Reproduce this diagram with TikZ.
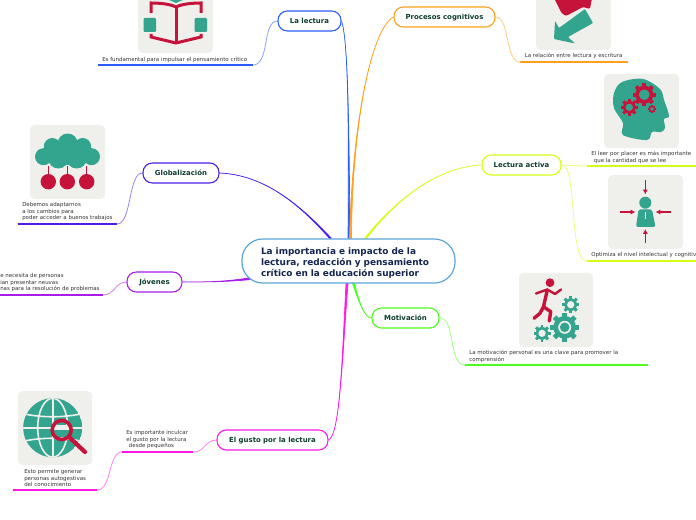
\documentclass[tikz,border=0pt]{standalone}
\usepackage{fontspec}
\setmainfont{DejaVu Sans}
\usetikzlibrary{backgrounds,arrows.meta}
\def\px{*0.75pt}
\definecolor{teal1}{HTML}{33A58F}
\definecolor{crim}{HTML}{C5133A}
\definecolor{panelc}{HTML}{EFEFEB}
\definecolor{cblue}{HTML}{2A5CFF}
\definecolor{corange}{HTML}{FF9F1C}
\definecolor{clime}{HTML}{D2FF14}
\definecolor{cgreen}{HTML}{4CFF1E}
\definecolor{cmag}{HTML}{FF19E8}
\definecolor{cpurp}{HTML}{A81EE8}
\definecolor{cindigo}{HTML}{4B1EE8}
\definecolor{ctrb}{HTML}{5AA5DC}
\definecolor{bt}{HTML}{0B3D2E}
\definecolor{navy}{HTML}{14264F}
\definecolor{leaft}{HTML}{333333}
\tikzset{
  branch/.style={draw=#1,fill=white,line width=1.1\px,rounded corners=7pt,inner sep=0pt,
    minimum height=20\px,text height=3.8pt,text depth=0pt,text=bt,font=\bfseries\fontsize{5.2}{6}\selectfont},
  central/.style={draw=#1,fill=white,line width=1.2\px,rounded corners=15.5pt,inner ysep=0pt,inner xsep=19\px,
    minimum height=44\px,text width=175\px,align=left,text=navy,font=\bfseries\fontsize{6.7}{8.25}\selectfont},
  leaf/.style={anchor=north west,inner sep=0pt,yshift=-.75pt,align=left,text=leaft,font=\fontsize{4.1}{4.95}\selectfont},
  uline/.style={draw=#1,line width=1.2\px},
  thin/.style={draw=#1!55!white,line width=.8\px},
  panel/.style={fill=panelc,rounded corners=3.5pt},
  redarrow/.style={crim,line width=1.1\px,-{Latex[length=3.6pt,width=3.8pt]}},
}
% tapered branch: colour, start, control, control, end, shift
\newcommand\taper[6]{\path[fill=#1,draw=#1,line width=.7\px]
  ([#6=1\px]#2) .. controls (#3) and (#4) .. (#5) .. controls (#4) and (#3) .. ([#6=-1\px]#2) -- cycle;}
\newcommand\gearicon[4]{\begin{scope}[shift={(#1,#2)}]
  \foreach \a in {0,45,...,315}{\fill[#4,rotate=\a] ({-.17*#3},{-#3}) rectangle ({.17*#3},{-.6*#3});}
  \draw[#4,line width={#3*.32*0.75pt}] (0,0) circle ({.62*#3});
\end{scope}}
\begin{document}
\begin{tikzpicture}[x=.75pt,y=-.75pt]
\path[use as bounding box,clip] (0,0) rectangle (696,520);

% ---------- icon panels
% book
\fill[panel] (138,-20) rectangle (213,53);
\fill[teal1,rounded corners=.8pt] (143.5,18) rectangle (156,32);
\fill[teal1,rounded corners=.8pt] (194.5,18) rectangle (207,32);
\fill[teal1] (167,-1) -- (185,-1) -- (176,3) -- cycle;
\draw[crim,line width=3\px] (151,13) -- (151,3) .. controls (160,3) and (170,4) .. (176,7) .. controls (182,4) and (192,3) .. (201,3) -- (201,13);
\draw[crim,line width=3\px] (176,7) -- (176,43);
\draw[crim,line width=3\px] (151,34) -- (151,37) -- (176,43) -- (201,37) -- (201,34);
% arrows
\fill[panel] (536,-20) rectangle (611,50);
\fill[crim,rounded corners=1pt] (554,-2) -- (561.5,13) -- (566,16) -- (583,7) -- (590,9) -- (592,-2) -- cycle;
\fill[teal1,rounded corners=.6pt] (555,21) -- (559,28) -- (585,9) -- (593,23) -- (568,37) -- (575,43.5) -- (554,39) -- cycle;
% head
\fill[panel] (604,74) rectangle (679,148);
\fill[teal1] plot[smooth cycle,tension=.55] coordinates {(623,135) (623,123) (614,108) (614,93) (622,82) (643,79) (660,89) (664,100) (669,116) (664,119) (665,128) (661,132) (652,132) (647,140)};
\gearicon{644.3}{94.7}{11.5}{crim}
\gearicon{629.3}{107.3}{8.5}{crim}
\gearicon{652}{109}{4}{crim}
% person
\fill[panel] (608,175) rectangle (683,249);
\fill[teal1] (645.3,202.7) circle (6);
\fill[teal1,rounded corners=1.2pt] (638.5,209.5) -- (652,209.5) -- (655.5,227) -- (636,227) -- cycle;
\fill[panelc] (644.8,212) rectangle (645.8,219);
\draw[redarrow] (645.3,180) -- (645.3,194.5);
\draw[redarrow] (645.3,243.5) -- (645.3,229);
\draw[redarrow] (620,212) -- (635.5,212);
\draw[redarrow] (671,212) -- (655.5,212);
% runner
\fill[panel] (519,273) rectangle (593,347);
\fill[crim] (550,282.7) circle (4.4);
\draw[crim,line width=3.4\px,line join=round,line cap=round] (547.3,290) -- (543.5,306.7) -- (540,313.3) -- (534,318.3);
\draw[crim,line width=3.4\px,line join=round,line cap=round] (543.5,306.7) -- (550.7,311.7) -- (549.3,321);
\draw[crim,line width=2.4\px,line join=round,line cap=round] (536,293.5) -- (547.3,289.5) -- (555,294) -- (561,289.5);
\gearicon{564.7}{327.3}{14.5}{teal1}
\fill[teal1] (564.7,327.3) circle (4.8);
\gearicon{570.7}{304.7}{8.5}{teal1}
\gearicon{542}{333.3}{8.5}{teal1}
% cloud
\fill[panel] (30,125) rectangle (105,199);
\fill[teal1] (43.5,156.7) circle (8.5) (52.3,146.5) circle (8.5) (67.7,143.5) circle (10) (82.7,146.5) circle (8.5) (91.5,156.7) circle (8.5)
  (58.3,158.5) circle (10) (76.7,158.5) circle (10) (67.7,155) circle (10);
\foreach \cx in {48.3,67.3,86.7}{
  \draw[crim,line width=1.5\px] (\cx,166) -- (\cx,176);
  \fill[crim] (\cx,181.7) circle (7.7);
}
% globe
\fill[panel] (18,391) rectangle (92,465);
\begin{scope}
\clip (52.7,427.7) circle (29.5);
\fill[teal1] (52.7,427.7) circle (29.5);
\draw[panelc,line width=1.6\px] (52.7,398) -- (52.7,457);
\draw[panelc,line width=1.6\px] (52.7,427.7) ellipse (15 and 29.5);
\draw[panelc,line width=1.6\px] (20,427.7) -- (85,427.7);
\draw[panelc,line width=1.6\px] (20,413) .. controls (40,418) and (65,418) .. (85,413);
\draw[panelc,line width=1.6\px] (20,442) .. controls (40,437) and (65,437) .. (85,442);
\end{scope}
\fill[panelc] (61.7,430) circle (10);
\begin{scope}
\clip (61.7,430) circle (8);
\fill[teal1] (54,430) rectangle (70,437);
\fill[teal1] (57,421) rectangle (66,425);
\end{scope}
\draw[crim,line width=3.6\px] (61.7,430) circle (9.5);
\draw[crim,line width=4.2\px,line cap=round] (69,437) -- (85,452);

% ---------- main nodes
\node[central=ctrb] (ctr) at (348.5,261)
  {\rule{0pt}{7.6pt}La importancia e impacto de la\\lectura, redacción y pensamiento\\crítico en la educación superior};
\node[branch=cblue,minimum width=63\px] (lectura) at (309.5,21) {La lectura};
\node[branch=corange,minimum width=101\px] (procesos) at (444.5,17) {Procesos cognitivos};
\node[branch=clime,minimum width=79\px] (activa) at (521.5,165) {Lectura activa};
\node[branch=cgreen,minimum width=67\px] (motiv) at (405.5,318) {Motivación};
\node[branch=cmag,minimum width=111\px] (gusto) at (272.5,440) {El gusto por la lectura};
\node[branch=cpurp,minimum width=55\px] (jovenes) at (154.5,282) {Jóvenes};
\node[branch=cindigo,minimum width=76\px] (glob) at (181,173) {Globalización};

% ---------- leaf texts
\node[leaf] (t1) at (102,56) {Es fundamental para impulsar el pensamiento crítico};
\node[leaf] (t2) at (524.5,52) {La relación entre lectura y escritura};
\node[leaf] (t3) at (591,150) {El leer por placer es más importante\\\hspace*{2pt}que la cantidad que se lee};
\node[leaf] (t4) at (591,251) {Optimiza el nivel intelectual y cognitivo};
\node[leaf] (t5) at (469,349) {La motivación personal es una clave para promover la\\comprensión};
\node[leaf] (t6) at (126,429) {Es importante inculcar\\el gusto por la lectura\\\hspace*{2pt}desde pequeños};
\node[leaf] (t7) at (24,468) {Esto permite generar\\personas autogestivas\\del conocimiento};
\node[leaf] (t8) at (0,272) {e necesita de personas\\ian presentar neuvas\\nas para la resolución de problemas};
\node[leaf] (t9) at (22,201) {Debemos adaptarnos\\a los cambios para\\poder acceder a buenos trabajos};

% ---------- underline end points
\coordinate (u1a) at (98,65);   \coordinate (u1b) at (253,65);
\coordinate (u2a) at (520,62);  \coordinate (u2b) at (628,62);
\coordinate (u3a) at (587,166); \coordinate (u3b) at (696,166);
\coordinate (u4a) at (587,261); \coordinate (u4b) at (696,261);
\coordinate (u5a) at (465,365); \coordinate (u5b) at (648,365);
\coordinate (u6a) at (122,452); \coordinate (u6b) at (193,452);
\coordinate (u7a) at (13,490);  \coordinate (u7b) at (97,490);
\coordinate (u8a) at (0,295);   \coordinate (u8b) at (103,295);
\coordinate (u9a) at (18,224);  \coordinate (u9b) at (117,224);

\begin{scope}[on background layer]
% main branches
\coordinate (s1) at ([xshift=.5\px]ctr.north);
\coordinate (s2) at ([xshift=2\px]ctr.north);
\coordinate (s3) at ([xshift=17\px]ctr.north);
\coordinate (s4) at ([xshift=5\px]ctr.south);
\coordinate (s5) at ([xshift=-1.5\px]ctr.south);
\coordinate (s6) at ([xshift=-98\px,yshift=5\px]ctr.south);
\coordinate (s7) at ([xshift=-18\px]ctr.north);
\taper{cblue}{s1}{349,120}{348,40}{lectura.east}{xshift}
\taper{corange}{s2}{352,130}{370,30}{procesos.west}{xshift}
\taper{clime}{s3}{400,195}{440,167}{activa.west}{xshift}
\taper{cgreen}{s4}{360,305}{365,318}{motiv.west}{xshift}
\taper{cmag}{s5}{342,360}{340,435}{gusto.east}{xshift}
\taper{cpurp}{s6}{225,282}{205,282}{jovenes.east}{yshift}
\taper{cindigo}{s7}{300,205}{265,175}{glob.east}{xshift}
% sub-branches
\draw[thin=cblue] (lectura.west) .. controls (262,21) and (270,65) .. (u1b);
\draw[thin=corange] (procesos.east) .. controls (510,17) and (505,62) .. (u2a);
\draw[thin=clime] (activa.east) .. controls (570,165) and (575,166) .. (u3a);
\draw[thin=clime] (activa.east) .. controls (578,165) and (568,261) .. (u4a);
\draw[thin=cgreen] (motiv.east) .. controls (456,318) and (448,365) .. (u5a);
\draw[thin=cmag] (gusto.west) .. controls (205,440) and (205,452) .. (u6b);
\draw[thin=cmag] (u6a) .. controls (108,452) and (112,490) .. (u7b);
\draw[thin=cpurp] (jovenes.west) .. controls (115,282) and (115,295) .. (u8b);
\draw[thin=cindigo] (glob.west) .. controls (128,173) and (132,224) .. (u9b);
% underlines
\draw[uline=cblue] (u1a) -- (u1b);
\draw[uline=corange] (u2a) -- (u2b);
\draw[uline=clime] (u3a) -- (u3b);
\draw[uline=clime] (u4a) -- (u4b);
\draw[uline=cgreen] (u5a) -- (u5b);
\draw[uline=cmag] (u6a) -- (u6b);
\draw[uline=cmag] (u7a) -- (u7b);
\draw[uline=cpurp] (u8a) -- (u8b);
\draw[uline=cindigo] (u9a) -- (u9b);
\end{scope}
\end{tikzpicture}
\end{document}
